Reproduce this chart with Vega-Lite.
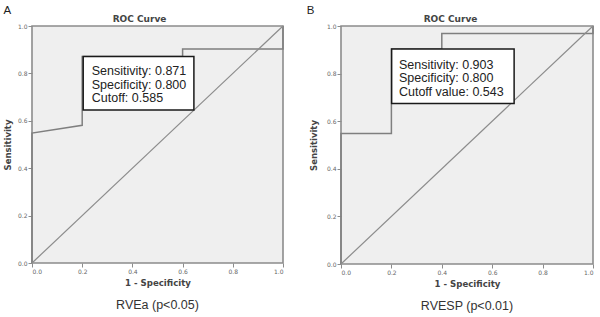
{
  "$schema": "https://vega.github.io/schema/vega-lite/v6.json",
  "padding": {"top": 4, "left": 2, "right": 2, "bottom": 2},
  "background": "white",
  "spacing": 18,
  "config": {
    "view": {"fill": "#efefef", "stroke": "#8c8c8c", "strokeWidth": 1.6},
    "axis": {
      "labelFont": "DejaVu Sans", "labelFontSize": 6, "labelColor": "#666",
      "titleFont": "DejaVu Sans", "titleFontWeight": "bold", "titleColor": "#444",
      "tickColor": "#8c8c8c", "tickSize": 4, "domain": false, "grid": false
    }
  },
  "hconcat": [
    {
      "width": 251, "height": 237,
      "title": {"text": "RVEa (p<0.05)", "orient": "bottom", "font": "Liberation Sans", "fontSize": 12.5, "fontWeight": "normal", "color": "#333", "offset": 12},
      "resolve": {"axis": {"x": "independent", "y": "shared"}},
      "layer": [
        {
          "data": {"values": [
            {"i": 0, "fpr": 0, "tpr": 0},
            {"i": 1, "fpr": 0, "tpr": 0.548},
            {"i": 2, "fpr": 0.2, "tpr": 0.581},
            {"i": 3, "fpr": 0.2, "tpr": 0.871},
            {"i": 4, "fpr": 0.6, "tpr": 0.871},
            {"i": 5, "fpr": 0.6, "tpr": 0.903},
            {"i": 6, "fpr": 1, "tpr": 0.903},
            {"i": 7, "fpr": 1, "tpr": 1}
          ]},
          "mark": {"type": "line", "color": "#7f7f7f", "strokeWidth": 1.5},
          "encoding": {
            "x": {"field": "fpr", "type": "quantitative", "scale": {"domain": [0, 1], "nice": false},
              "axis": {"orient": "bottom", "title": "1 - Specificity", "titleFontSize": 8.6, "titlePadding": 4, "values": [0, 0.2, 0.4, 0.6, 0.8, 1], "format": ".1f", "labelPadding": 1}},
            "y": {"field": "tpr", "type": "quantitative", "scale": {"domain": [0, 1], "nice": false},
              "axis": {"title": "Sensitivity", "titleFontSize": 8.5, "titlePadding": 5, "values": [0, 0.2, 0.4, 0.6, 0.8, 1], "format": ".1f", "labelPadding": 1}},
            "order": {"field": "i", "type": "quantitative"}
          }
        },
        {
          "data": {"values": [{"x0": 0, "y0": 0, "x1": 1, "y1": 1}]},
          "mark": {"type": "rule", "color": "#8c8c8c", "strokeWidth": 1.2},
          "encoding": {
            "x": {"field": "x0", "type": "quantitative",
              "axis": {"orient": "top", "title": "ROC Curve", "titleFontSize": 9, "titlePadding": 3, "labels": false, "ticks": false, "titleX": 107}},
            "y": {"field": "y0", "type": "quantitative",
              "axis": {"title": "Sensitivity", "titleFontSize": 8.5, "titlePadding": 5, "values": [0, 0.2, 0.4, 0.6, 0.8, 1], "format": ".1f", "labelPadding": 1}},
            "x2": {"field": "x1"},
            "y2": {"field": "y1"}
          }
        },
        {
          "data": {"values": [{"xa": 0.204, "xb": 0.645, "ya": 0.646, "yb": 0.871}]},
          "mark": {"type": "rect", "fill": "white", "stroke": "#1a1a1a", "strokeWidth": 1.5},
          "encoding": {
            "x": {"field": "xa", "type": "quantitative", "axis": null},
            "x2": {"field": "xb"},
            "y": {"field": "ya", "type": "quantitative",
              "axis": {"title": "Sensitivity", "titleFontSize": 8.5, "titlePadding": 5, "values": [0, 0.2, 0.4, 0.6, 0.8, 1], "format": ".1f", "labelPadding": 1}},
            "y2": {"field": "yb"}
          }
        },
        {
          "data": {"values": [
            {"x": 0.238, "y": 0.792, "t": "Sensitivity: 0.871"},
            {"x": 0.238, "y": 0.736, "t": "Specificity: 0.800"},
            {"x": 0.238, "y": 0.679, "t": "Cutoff: 0.585"}
          ]},
          "mark": {"type": "text", "align": "left", "baseline": "alphabetic", "font": "Liberation Sans", "fontSize": 12.5, "color": "#222"},
          "encoding": {
            "x": {"field": "x", "type": "quantitative", "axis": null},
            "y": {"field": "y", "type": "quantitative",
              "axis": {"title": "Sensitivity", "titleFontSize": 8.5, "titlePadding": 5, "values": [0, 0.2, 0.4, 0.6, 0.8, 1], "format": ".1f", "labelPadding": 1}},
            "text": {"field": "t"}
          }
        },
        {
          "data": {"values": [{"x": -0.098, "y": 1.063, "t": "A"}]},
          "mark": {"type": "text", "align": "center", "baseline": "middle", "font": "Liberation Sans", "fontSize": 11.5, "color": "#222", "clip": false},
          "encoding": {
            "x": {"field": "x", "type": "quantitative", "axis": null},
            "y": {"field": "y", "type": "quantitative",
              "axis": {"title": "Sensitivity", "titleFontSize": 8.5, "titlePadding": 5, "values": [0, 0.2, 0.4, 0.6, 0.8, 1], "format": ".1f", "labelPadding": 1}},
            "text": {"field": "t"}
          }
        }
      ]
    },
    {
      "width": 252, "height": 238,
      "title": {"text": "RVESP (p<0.01)", "orient": "bottom", "font": "Liberation Sans", "fontSize": 12.5, "fontWeight": "normal", "color": "#333", "offset": 12},
      "resolve": {"axis": {"x": "independent", "y": "shared"}},
      "layer": [
        {
          "data": {"values": [
            {"i": 0, "fpr": 0, "tpr": 0},
            {"i": 1, "fpr": 0, "tpr": 0.548},
            {"i": 2, "fpr": 0.2, "tpr": 0.548},
            {"i": 3, "fpr": 0.2, "tpr": 0.903},
            {"i": 4, "fpr": 0.4, "tpr": 0.903},
            {"i": 5, "fpr": 0.4, "tpr": 0.968},
            {"i": 6, "fpr": 1, "tpr": 0.968},
            {"i": 7, "fpr": 1, "tpr": 1}
          ]},
          "mark": {"type": "line", "color": "#7f7f7f", "strokeWidth": 1.5},
          "encoding": {
            "x": {"field": "fpr", "type": "quantitative", "scale": {"domain": [0, 1], "nice": false},
              "axis": {"orient": "bottom", "title": "1 - Specificity", "titleFontSize": 8.6, "titlePadding": 4, "values": [0, 0.2, 0.4, 0.6, 0.8, 1], "format": ".1f", "labelPadding": 1}},
            "y": {"field": "tpr", "type": "quantitative", "scale": {"domain": [0, 1], "nice": false},
              "axis": {"title": "Sensitivity", "titleFontSize": 8.5, "titlePadding": 8, "values": [0, 0.2, 0.4, 0.6, 0.8, 1], "format": ".1f", "labelPadding": 1}},
            "order": {"field": "i", "type": "quantitative"}
          }
        },
        {
          "data": {"values": [{"x0": 0, "y0": 0, "x1": 1, "y1": 1}]},
          "mark": {"type": "rule", "color": "#8c8c8c", "strokeWidth": 1.2},
          "encoding": {
            "x": {"field": "x0", "type": "quantitative",
              "axis": {"orient": "top", "title": "ROC Curve", "titleFontSize": 9, "titlePadding": 3, "labels": false, "ticks": false, "titleX": 109}},
            "y": {"field": "y0", "type": "quantitative",
              "axis": {"title": "Sensitivity", "titleFontSize": 8.5, "titlePadding": 8, "values": [0, 0.2, 0.4, 0.6, 0.8, 1], "format": ".1f", "labelPadding": 1}},
            "x2": {"field": "x1"},
            "y2": {"field": "y1"}
          }
        },
        {
          "data": {"values": [{"xa": 0.201, "xb": 0.687, "ya": 0.674, "yb": 0.903}]},
          "mark": {"type": "rect", "fill": "white", "stroke": "#1a1a1a", "strokeWidth": 1.5},
          "encoding": {
            "x": {"field": "xa", "type": "quantitative", "axis": null},
            "x2": {"field": "xb"},
            "y": {"field": "ya", "type": "quantitative",
              "axis": {"title": "Sensitivity", "titleFontSize": 8.5, "titlePadding": 8, "values": [0, 0.2, 0.4, 0.6, 0.8, 1], "format": ".1f", "labelPadding": 1}},
            "y2": {"field": "yb"}
          }
        },
        {
          "data": {"values": [
            {"x": 0.23, "y": 0.821, "t": "Sensitivity: 0.903"},
            {"x": 0.23, "y": 0.765, "t": "Specificity: 0.800"},
            {"x": 0.23, "y": 0.705, "t": "Cutoff value: 0.543"}
          ]},
          "mark": {"type": "text", "align": "left", "baseline": "alphabetic", "font": "Liberation Sans", "fontSize": 12.5, "color": "#222"},
          "encoding": {
            "x": {"field": "x", "type": "quantitative", "axis": null},
            "y": {"field": "y", "type": "quantitative",
              "axis": {"title": "Sensitivity", "titleFontSize": 8.5, "titlePadding": 8, "values": [0, 0.2, 0.4, 0.6, 0.8, 1], "format": ".1f", "labelPadding": 1}},
            "text": {"field": "t"}
          }
        },
        {
          "data": {"values": [{"x": -0.121, "y": 1.061, "t": "B"}]},
          "mark": {"type": "text", "align": "center", "baseline": "middle", "font": "Liberation Sans", "fontSize": 11.5, "color": "#222", "clip": false},
          "encoding": {
            "x": {"field": "x", "type": "quantitative", "axis": null},
            "y": {"field": "y", "type": "quantitative",
              "axis": {"title": "Sensitivity", "titleFontSize": 8.5, "titlePadding": 8, "values": [0, 0.2, 0.4, 0.6, 0.8, 1], "format": ".1f", "labelPadding": 1}},
            "text": {"field": "t"}
          }
        }
      ]
    }
  ]
}
